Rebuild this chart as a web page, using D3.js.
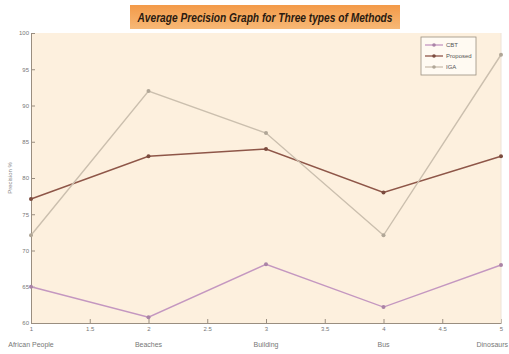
<!DOCTYPE html>
<html>
<head>
<meta charset="utf-8">
<script src="https://cdn.jsdelivr.net/npm/d3@7"></script>
<style>
  body { margin: 0; background: #fff; }
  text { font-family: "Liberation Sans Narrow", "Liberation Sans", Arial, sans-serif; }
</style>
</head>
<body>
<div id="chart"></div>
<script>
// Average precision of three methods over five image categories
const categories = ["African People", "Beaches", "Building", "Bus", "Dinosaurs"];
const xTicks = [1, 1.5, 2, 2.5, 3, 3.5, 4, 4.5, 5];
const yTicks = [60, 65, 70, 75, 80, 85, 90, 95, 100];
const cbt = [65, 60.8, 68.1, 62.2, 68];
const proposed = [77.1, 83, 84, 78, 83];
const iga = [72.1, 92, 86.2, 72.1, 97];

const seriesNames = ["CBT", "Proposed", "IGA"];
const seriesColors = ["#c497c0", "#8e5648", "#cbbfae"];
const seriesData = [cbt, proposed, iga];

const W = 509, H = 354;
const margin = {top: 33, right: 8, bottom: 31, left: 31};
const width = W - margin.left - margin.right;
const height = H - margin.top - margin.bottom;

const svg = d3.select("#chart").append("svg")
  .attr("width", W).attr("height", H);

// title with orange box
const defs = svg.append("defs");
const grad = defs.append("linearGradient").attr("id", "tg")
  .attr("x1", 0).attr("y1", 0).attr("x2", 0).attr("y2", 1);
grad.append("stop").attr("offset", "0%").attr("stop-color", "#f39a48");
grad.append("stop").attr("offset", "100%").attr("stop-color", "#f7b876");

svg.append("rect")
  .attr("x", 130).attr("y", 5).attr("width", 270).attr("height", 24)
  .attr("fill", "url(#tg)");
svg.append("text")
  .attr("x", 265).attr("y", 22)
  .attr("text-anchor", "middle")
  .attr("textLength", 255)
  .attr("lengthAdjust", "spacingAndGlyphs")
  .style("font-size", "12px")
  .style("font-weight", "bold")
  .style("font-style", "italic")
  .style("fill", "#2a1a10")
  .text("Average Precision Graph for Three types of Methods");

const g = svg.append("g")
  .attr("transform", `translate(${margin.left},${margin.top})`);

const x = d3.scaleLinear().domain([1, 5]).range([0, width]);
const y = d3.scaleLinear().domain([60, 100]).range([height, 0]);

// plot background
g.append("rect")
  .attr("width", width).attr("height", height)
  .attr("fill", "#fdf0de");

// x axis
const xAxis = g.append("g")
  .attr("transform", `translate(0,${height})`)
  .call(d3.axisBottom(x).tickValues(xTicks).tickSizeInner(-4).tickSizeOuter(0)
    .tickFormat(d3.format("~g")));
xAxis.select(".domain").attr("stroke", "#9a8e80");
xAxis.selectAll(".tick line").attr("stroke", "#9a8e80");
xAxis.selectAll(".tick text").attr("dy", "0.9em")
  .style("font-size", "6px").style("fill", "#777");

// category labels under the integer ticks (last one kept inside the window)
g.append("g").selectAll("text")
  .data(categories)
  .enter().append("text")
  .attr("x", (d, i) => i === categories.length - 1 ? W - margin.left - 1 : x(i + 1))
  .attr("y", height + 24)
  .attr("text-anchor", (d, i) => i === categories.length - 1 ? "end" : "middle")
  .style("font-size", "7px")
  .style("fill", "#777")
  .text(d => d);

// y axis
const yAxis = g.append("g")
  .call(d3.axisLeft(y).tickValues(yTicks).tickSizeInner(-4).tickSizeOuter(0));
yAxis.select(".domain").attr("stroke", "#9a8e80");
yAxis.selectAll(".tick line").attr("stroke", "#9a8e80");
yAxis.selectAll(".tick text").attr("x", -2)
  .style("font-size", "6px").style("fill", "#777");

// right border
g.append("line")
  .attr("x1", width).attr("x2", width).attr("y1", 0).attr("y2", height)
  .attr("stroke", "#eee4d8");

// y label
svg.append("text")
  .attr("transform", `translate(12,${margin.top + height / 2}) rotate(-90)`)
  .attr("text-anchor", "middle")
  .style("font-size", "6px")
  .style("fill", "#888")
  .text("Precision %");

// lines
const line = d3.line().x((d, i) => x(i + 1)).y(d => y(d));

seriesData.forEach((vals, k) => {
  g.append("path")
    .datum(vals)
    .attr("fill", "none")
    .attr("stroke", seriesColors[k])
    .attr("stroke-width", 1.4)
    .attr("d", line);

  g.selectAll(".pt" + k)
    .data(vals)
    .enter().append("circle")
    .attr("cx", (d, i) => x(i + 1))
    .attr("cy", d => y(d))
    .attr("r", 2)
    .attr("fill", d3.color(seriesColors[k]).darker(0.4));
});

// legend
const legend = svg.append("g").attr("transform", "translate(421,37)");
legend.append("rect")
  .attr("width", 55).attr("height", 38)
  .attr("fill", "#fffaf2")
  .attr("stroke", "#9a9080")
  .attr("stroke-width", 0.8);

seriesNames.forEach((name, k) => {
  const row = legend.append("g").attr("transform", `translate(0,${8 + k * 11})`);
  row.append("line")
    .attr("x1", 4).attr("x2", 22)
    .attr("stroke", seriesColors[k]).attr("stroke-width", 1.3);
  row.append("circle")
    .attr("cx", 13).attr("r", 1.8)
    .attr("fill", d3.color(seriesColors[k]).darker(0.4));
  row.append("text")
    .attr("x", 25).attr("y", 2.2)
    .style("font-size", "6px")
    .style("fill", "#555")
    .text(name);
});
</script>
</body>
</html>
